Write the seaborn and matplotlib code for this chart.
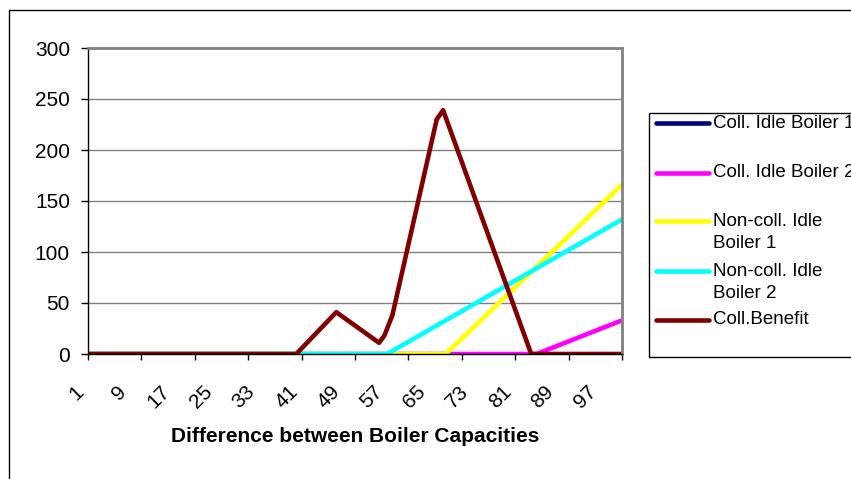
import pandas as pd
import matplotlib
matplotlib.use("Agg")
import matplotlib.pyplot as plt
from matplotlib.lines import Line2D
from matplotlib.patches import Rectangle
from matplotlib.transforms import ScaledTranslation
import seaborn as sns

# ------------------------------------------
# data (breakpoints of each line)
# ------------------------------------------
series_names = ["Coll. Idle Boiler 1", "Coll. Idle Boiler 2",
                "Non-coll. Idle Boiler 1", "Non-coll. Idle Boiler 2", "Coll.Benefit"]
legend_lines = [["Coll. Idle Boiler 1"], ["Coll. Idle Boiler 2"],
                ["Non-coll. Idle", "Boiler 1"], ["Non-coll. Idle", "Boiler 2"], ["Coll.Benefit"]]
line_colors = ["#000080", "#FF00FF", "#FFFF00", "#00FFFF", "#800000"]

idle1_x = [1, 101]
idle1_y = [0, 0]
idle2_x = [1, 85, 101]
idle2_y = [0, 0, 33]
noncoll1_x = [1, 68, 101]
noncoll1_y = [0, 0, 166]
noncoll2_x = [1, 57, 101]
noncoll2_y = [0, 0, 132]
benefit_x = [1, 40, 47.5, 55.5, 56.5, 58, 66.3, 67.5, 84, 101]
benefit_y = [0, 0, 41, 11, 18, 38, 230, 239, 0, 0]

x_tick_marks = list(range(1, 102, 10))
x_tick_labels = list(range(1, 98, 8))
y_ticks = [0, 50, 100, 150, 200, 250, 300]

frames = []
for name, xs, ys in zip(series_names,
                        [idle1_x, idle2_x, noncoll1_x, noncoll2_x, benefit_x],
                        [idle1_y, idle2_y, noncoll1_y, noncoll2_y, benefit_y]):
    frames.append(pd.DataFrame({"x": xs, "value": ys, "series": name}))
df = pd.concat(frames, ignore_index=True)

# ------------------------------------------
# figure
# ------------------------------------------
sns.set_style("white")
plt.rcParams['font.family'] = ['Liberation Sans', 'DejaVu Sans']
plt.rcParams['text.color'] = 'black'
plt.rcParams['axes.labelcolor'] = 'black'
plt.rcParams['xtick.color'] = 'black'
plt.rcParams['ytick.color'] = 'black'
FS_AX = 15      # axis numbers and title
FS_LEG = 13.5   # legend text
LW = 3.3
W, H = 851, 479

fig = plt.figure(figsize=(W / 100, H / 100), dpi=100)
ax = fig.add_axes([88 / W, (H - 354) / H, 534 / W, 306 / H])

sns.lineplot(data=df, x="x", y="value", hue="series", hue_order=series_names,
             palette=line_colors, estimator=None, linewidth=LW, legend=False, ax=ax,
             solid_capstyle="round", solid_joinstyle="round")

ax.set_xlim(1, 101)
ax.set_ylim(0, 300)
ax.set_yticks(y_ticks)
ax.set_yticklabels([str(v) for v in y_ticks], fontsize=FS_AX)
ax.yaxis.grid(True, color="#808080", linewidth=1)
ax.xaxis.grid(False)
ax.set_axisbelow(True)

# tick marks every 10 categories, labels every 8
ax.xaxis.remove_overlapping_locs = False
ax.set_xticks(x_tick_marks)
ax.set_xticklabels([])
ax.set_xticks(x_tick_labels, minor=True)
ax.set_xticklabels([str(v) for v in x_tick_labels], minor=True, fontsize=FS_AX,
                   rotation=45, ha="right", va="center", rotation_mode="anchor")
ax.tick_params(axis="x", which="major", length=4.5, width=1, direction="out",
               color="black", bottom=True)
ax.tick_params(axis="x", which="minor", length=0, pad=25, bottom=True)
ax.tick_params(axis="y", length=5, width=1, direction="out", color="black",
               pad=8, left=True)
shift = ScaledTranslation(-7 / 100, 0, fig.dpi_scale_trans)
for lbl in ax.get_xticklabels(minor=True):
    lbl.set_transform(lbl.get_transform() + shift)

ax.set_xlabel("Difference between Boiler Capacities", fontsize=FS_AX, fontweight="bold")
ax.xaxis.set_label_coords(0.5, (354 - 437) / 306)
ax.xaxis.label.set_va("center")
ax.set_ylabel("")

for side in ["left", "bottom"]:
    ax.spines[side].set_color("black")
    ax.spines[side].set_linewidth(1)
for side in ["top", "right"]:
    ax.spines[side].set_color("#808080")
    ax.spines[side].set_linewidth(2)

# outer chart border
fig.add_artist(Rectangle((9 / W, -0.2), 1.5, (H - 10) / H + 0.2,
                         transform=fig.transFigure, fill=False,
                         edgecolor="black", linewidth=1))

# legend box drawn by hand (it runs off the right edge like the original)
fig.add_artist(Rectangle((649 / W, (H - 357) / H), 1.0, (357 - 113) / H,
                         transform=fig.transFigure, fill=False,
                         edgecolor="black", linewidth=1))
marker_y = [123, 172.5, 221, 271, 319.5]
for color, lines, my in zip(line_colors, legend_lines, marker_y):
    fig.add_artist(Line2D([656 / W, 709 / W], [(H - my) / H, (H - my) / H],
                          transform=fig.transFigure, color=color, linewidth=LW,
                          solid_capstyle="round"))
    for k, txt in enumerate(lines):
        fig.text(713 / W, (H - my - 23 * k) / H, txt, fontsize=FS_LEG,
                 ha="left", va="center")

plt.savefig("out.png", dpi=100)
